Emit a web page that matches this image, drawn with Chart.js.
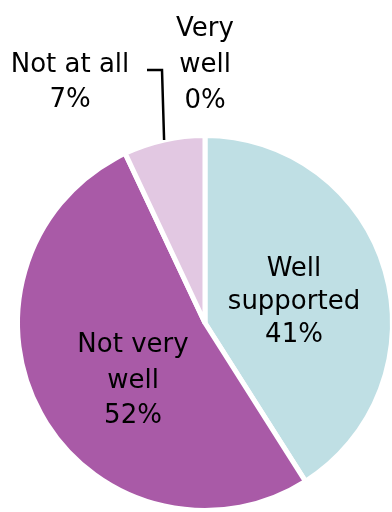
<!DOCTYPE html>
<html>
<head>
<meta charset="utf-8">
<script src="https://cdn.jsdelivr.net/npm/chart.js@4.4.0/dist/chart.umd.min.js"></script>
<style>
  html, body { margin: 0; padding: 0; background: #fff; overflow: hidden; }
  #pie { display: block; }
</style>
</head>
<body>
<canvas id="pie" width="400" height="520"></canvas>
<script>
const categories = [["Very", "well"], ["Well", "supported"], ["Not very", "well"], ["Not at all"]];
const shares = [0, 41, 52, 7];
const sliceColors = ["#ffffff", "#bfdfe4", "#a95aa7", "#e2c8e2"];

// label blocks: x is the centre, y the first baseline, gap the line step
const labelSpots = [
  { x: 205, y: 36, gap: 36 },
  { x: 294, y: 276, gap: 33 },
  { x: 133, y: 352, gap: 35.5 },
  { x: 70, y: 72, gap: 35, leader: [[162, 70], [147, 70]] }
];

const sliceLabels = {
  id: "sliceLabels",
  afterDatasetsDraw(chart) {
    const ctx = chart.ctx;
    const arcs = chart.getDatasetMeta(0).data;
    ctx.save();
    ctx.fillStyle = "#000";
    ctx.font = "26px 'DejaVu Sans'";
    ctx.textAlign = "center";
    ctx.textBaseline = "alphabetic";
    categories.forEach(function (cat, i) {
      const spot = labelSpots[i];
      const lines = cat.concat([shares[i] + "%"]);
      lines.forEach(function (txt, k) {
        ctx.fillText(txt, spot.x, spot.y + k * spot.gap);
      });
      if (spot.leader) {
        const a = arcs[i];
        const mid = (a.startAngle + a.endAngle) / 2;
        ctx.strokeStyle = "#000";
        ctx.lineWidth = 2.5;
        ctx.beginPath();
        ctx.moveTo(a.x + Math.cos(mid) * a.outerRadius, a.y + Math.sin(mid) * a.outerRadius);
        spot.leader.forEach(function (p) { ctx.lineTo(p[0], p[1]); });
        ctx.stroke();
      }
    });
    ctx.restore();
  }
};

new Chart(document.getElementById("pie"), {
  type: "pie",
  data: {
    labels: categories.map(function (c) { return c.join(" "); }),
    datasets: [{
      data: shares,
      backgroundColor: sliceColors,
      borderColor: "#ffffff",
      borderWidth: 5
    }]
  },
  options: {
    responsive: false,
    animation: false,
    devicePixelRatio: 1,
    layout: { padding: { left: 15, top: 133, right: 5, bottom: 7 } },
    plugins: {
      legend: { display: false },
      tooltip: { enabled: false }
    }
  },
  plugins: [sliceLabels]
});
</script>
</body>
</html>
